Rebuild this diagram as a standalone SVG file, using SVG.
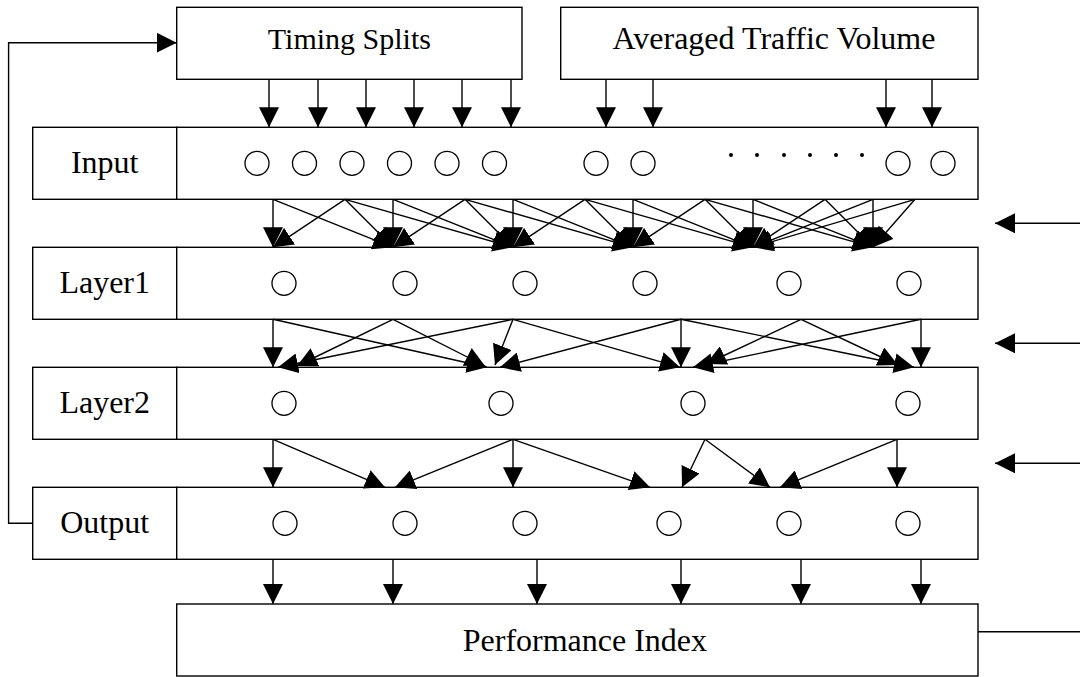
<svg xmlns="http://www.w3.org/2000/svg" width="1080" height="677" viewBox="0 0 1080 677">
<style>
.box{fill:#fff;stroke:#000;stroke-width:1.4}
.n{fill:#fff;stroke:#000;stroke-width:1.3}
.t{font-family:"Liberation Serif","Times New Roman",serif;font-size:32px;fill:#000;text-anchor:middle}
.c line,.c polyline{stroke:#000;stroke-width:1.4;fill:none;marker-end:url(#ah)}
.c .plain{marker-end:none}
</style>
<defs>
<marker id="ah" markerUnits="userSpaceOnUse" markerWidth="20" markerHeight="20" refX="20" refY="10" orient="auto"><path d="M0,0 L20,10 L0,20 z" fill="#000"/></marker>
</defs>
<rect width="1080" height="677" fill="#fff"/>

<g id="timing-splits">
<rect class="box" x="176.7" y="7.3" width="345.3" height="72"/>
<text class="t" x="349.4" y="48.5" style="font-size:30px">Timing Splits</text>
</g>
<g id="averaged-traffic-volume">
<rect class="box" x="560.7" y="7.3" width="417.3" height="72"/>
<text class="t" x="774" y="49">Averaged Traffic Volume</text>
</g>

<g id="input">
<rect class="box" x="32.7" y="127.3" width="144" height="72"/>
<rect class="box" x="176.7" y="127.3" width="801.3" height="72"/>
<text class="t" x="104.7" y="173">Input</text>
<circle class="n" cx="257" cy="163.3" r="12"/>
<circle class="n" cx="304.5" cy="163.3" r="12"/>
<circle class="n" cx="352" cy="163.3" r="12"/>
<circle class="n" cx="399.5" cy="163.3" r="12"/>
<circle class="n" cx="447" cy="163.3" r="12"/>
<circle class="n" cx="494.5" cy="163.3" r="12"/>
<circle class="n" cx="596" cy="163.3" r="12"/>
<circle class="n" cx="643" cy="163.3" r="12"/>
<circle class="n" cx="898" cy="163.3" r="12"/>
<circle class="n" cx="943" cy="163.3" r="12"/>
<circle cx="731" cy="155" r="2"/>
<circle cx="757" cy="155" r="2"/>
<circle cx="784" cy="155" r="2"/>
<circle cx="810" cy="155" r="2"/>
<circle cx="836" cy="155" r="2"/>
<circle cx="862" cy="155" r="2"/>
</g>

<g id="layer1">
<rect class="box" x="32.7" y="247.3" width="144" height="72"/>
<rect class="box" x="176.7" y="247.3" width="801.3" height="72"/>
<text class="t" x="104.7" y="293">Layer1</text>
<circle class="n" cx="284" cy="283.3" r="12"/>
<circle class="n" cx="405" cy="283.3" r="12"/>
<circle class="n" cx="525" cy="283.3" r="12"/>
<circle class="n" cx="645" cy="283.3" r="12"/>
<circle class="n" cx="789" cy="283.3" r="12"/>
<circle class="n" cx="909" cy="283.3" r="12"/>
</g>

<g id="layer2">
<rect class="box" x="32.7" y="367.3" width="144" height="72"/>
<rect class="box" x="176.7" y="367.3" width="801.3" height="72"/>
<text class="t" x="104.7" y="413">Layer2</text>
<circle class="n" cx="284" cy="403.3" r="12"/>
<circle class="n" cx="501" cy="403.3" r="12"/>
<circle class="n" cx="693" cy="403.3" r="12"/>
<circle class="n" cx="908" cy="403.3" r="12"/>
</g>

<g id="output">
<rect class="box" x="32.7" y="487.3" width="144" height="72"/>
<rect class="box" x="176.7" y="487.3" width="801.3" height="72"/>
<text class="t" x="104.7" y="533">Output</text>
<circle class="n" cx="285" cy="523.3" r="12"/>
<circle class="n" cx="405" cy="523.3" r="12"/>
<circle class="n" cx="525" cy="523.3" r="12"/>
<circle class="n" cx="669" cy="523.3" r="12"/>
<circle class="n" cx="789" cy="523.3" r="12"/>
<circle class="n" cx="908" cy="523.3" r="12"/>
</g>

<g id="performance-index">
<rect class="box" x="176.7" y="604" width="801.3" height="72"/>
<text class="t" x="584.9" y="651">Performance Index</text>
</g>

<g id="connectors" class="c">
<!-- feedback -->
<polyline points="32.7,523.3 8.6,523.3 8.6,42.7 176.7,42.7"/>
<!-- top boxes to input -->
<line x1="269" y1="79.3" x2="269" y2="127.3"/>
<line x1="318" y1="79.3" x2="318" y2="127.3"/>
<line x1="366" y1="79.3" x2="366" y2="127.3"/>
<line x1="414" y1="79.3" x2="414" y2="127.3"/>
<line x1="462" y1="79.3" x2="462" y2="127.3"/>
<line x1="511" y1="79.3" x2="511" y2="127.3"/>
<line x1="606" y1="79.3" x2="606" y2="127.3"/>
<line x1="653" y1="79.3" x2="653" y2="127.3"/>
<line x1="886" y1="79.3" x2="886" y2="127.3"/>
<line x1="932" y1="79.3" x2="932" y2="127.3"/>
<!-- input to layer1 -->
<line x1="273" y1="199.3" x2="273" y2="247.3"/>
<line x1="345" y1="199.3" x2="273" y2="247.3"/>
<line x1="393" y1="199.3" x2="393" y2="247.3"/>
<line x1="465" y1="199.3" x2="393" y2="247.3"/>
<line x1="345" y1="199.3" x2="393" y2="247.3"/>
<line x1="273" y1="199.3" x2="393" y2="247.3"/>
<line x1="513" y1="199.3" x2="513" y2="247.3"/>
<line x1="585" y1="199.3" x2="513" y2="247.3"/>
<line x1="465" y1="199.3" x2="513" y2="247.3"/>
<line x1="345" y1="199.3" x2="513" y2="247.3"/>
<line x1="393" y1="199.3" x2="513" y2="247.3"/>
<line x1="633" y1="199.3" x2="633" y2="247.3"/>
<line x1="705" y1="199.3" x2="633" y2="247.3"/>
<line x1="585" y1="199.3" x2="633" y2="247.3"/>
<line x1="465" y1="199.3" x2="633" y2="247.3"/>
<line x1="513" y1="199.3" x2="633" y2="247.3"/>
<line x1="753" y1="199.3" x2="753" y2="247.3"/>
<line x1="825" y1="199.3" x2="753" y2="247.3"/>
<line x1="705" y1="199.3" x2="753" y2="247.3"/>
<line x1="585" y1="199.3" x2="753" y2="247.3"/>
<line x1="633" y1="199.3" x2="753" y2="247.3"/>
<line x1="873" y1="199.3" x2="753" y2="247.3"/>
<line x1="915" y1="199.3" x2="753" y2="247.3"/>
<line x1="873" y1="199.3" x2="873" y2="247.3"/>
<line x1="915" y1="199.3" x2="873" y2="247.3"/>
<line x1="825" y1="199.3" x2="873" y2="247.3"/>
<line x1="705" y1="199.3" x2="873" y2="247.3"/>
<line x1="753" y1="199.3" x2="873" y2="247.3"/>
<!-- layer1 to layer2 -->
<line x1="273" y1="319.3" x2="273" y2="367.3"/>
<line x1="273" y1="319.3" x2="487" y2="367.3"/>
<line x1="393" y1="319.3" x2="297" y2="366"/>
<line x1="393" y1="319.3" x2="485" y2="366"/>
<line x1="513" y1="319.3" x2="278" y2="367.3"/>
<line x1="513" y1="319.3" x2="495" y2="365"/>
<line x1="513" y1="319.3" x2="680" y2="367.3"/>
<line x1="681" y1="319.3" x2="681" y2="367.3"/>
<line x1="681" y1="319.3" x2="500" y2="367.3"/>
<line x1="681" y1="319.3" x2="914" y2="367.3"/>
<line x1="801" y1="319.3" x2="706" y2="364"/>
<line x1="801" y1="319.3" x2="898" y2="365"/>
<line x1="921" y1="319.3" x2="921" y2="367.3"/>
<line x1="921" y1="319.3" x2="693" y2="367.3"/>
<!-- layer2 to output -->
<line x1="273" y1="439.3" x2="273" y2="487.3"/>
<line x1="273" y1="439.3" x2="385" y2="487.3"/>
<line x1="513" y1="439.3" x2="513" y2="487.3"/>
<line x1="513" y1="439.3" x2="395" y2="487.3"/>
<line x1="513" y1="439.3" x2="650" y2="487.3"/>
<line x1="705" y1="439.3" x2="682" y2="487.3"/>
<line x1="705" y1="439.3" x2="770" y2="487.3"/>
<line x1="897" y1="439.3" x2="897" y2="487.3"/>
<line x1="897" y1="439.3" x2="780" y2="487.3"/>
<!-- output to performance index -->
<line x1="273" y1="559.3" x2="273" y2="604"/>
<line x1="393" y1="559.3" x2="393" y2="604"/>
<line x1="537" y1="559.3" x2="537" y2="604"/>
<line x1="681" y1="559.3" x2="681" y2="604"/>
<line x1="801" y1="559.3" x2="801" y2="604"/>
<line x1="921" y1="559.3" x2="921" y2="604"/>
<!-- right side inputs -->
<line x1="1080" y1="223.3" x2="995" y2="223.3"/>
<line x1="1080" y1="343.3" x2="995" y2="343.3"/>
<line x1="1080" y1="463.3" x2="995" y2="463.3"/>
<line class="plain" x1="978" y1="631.7" x2="1080" y2="631.7"/>
</g>
</svg>
